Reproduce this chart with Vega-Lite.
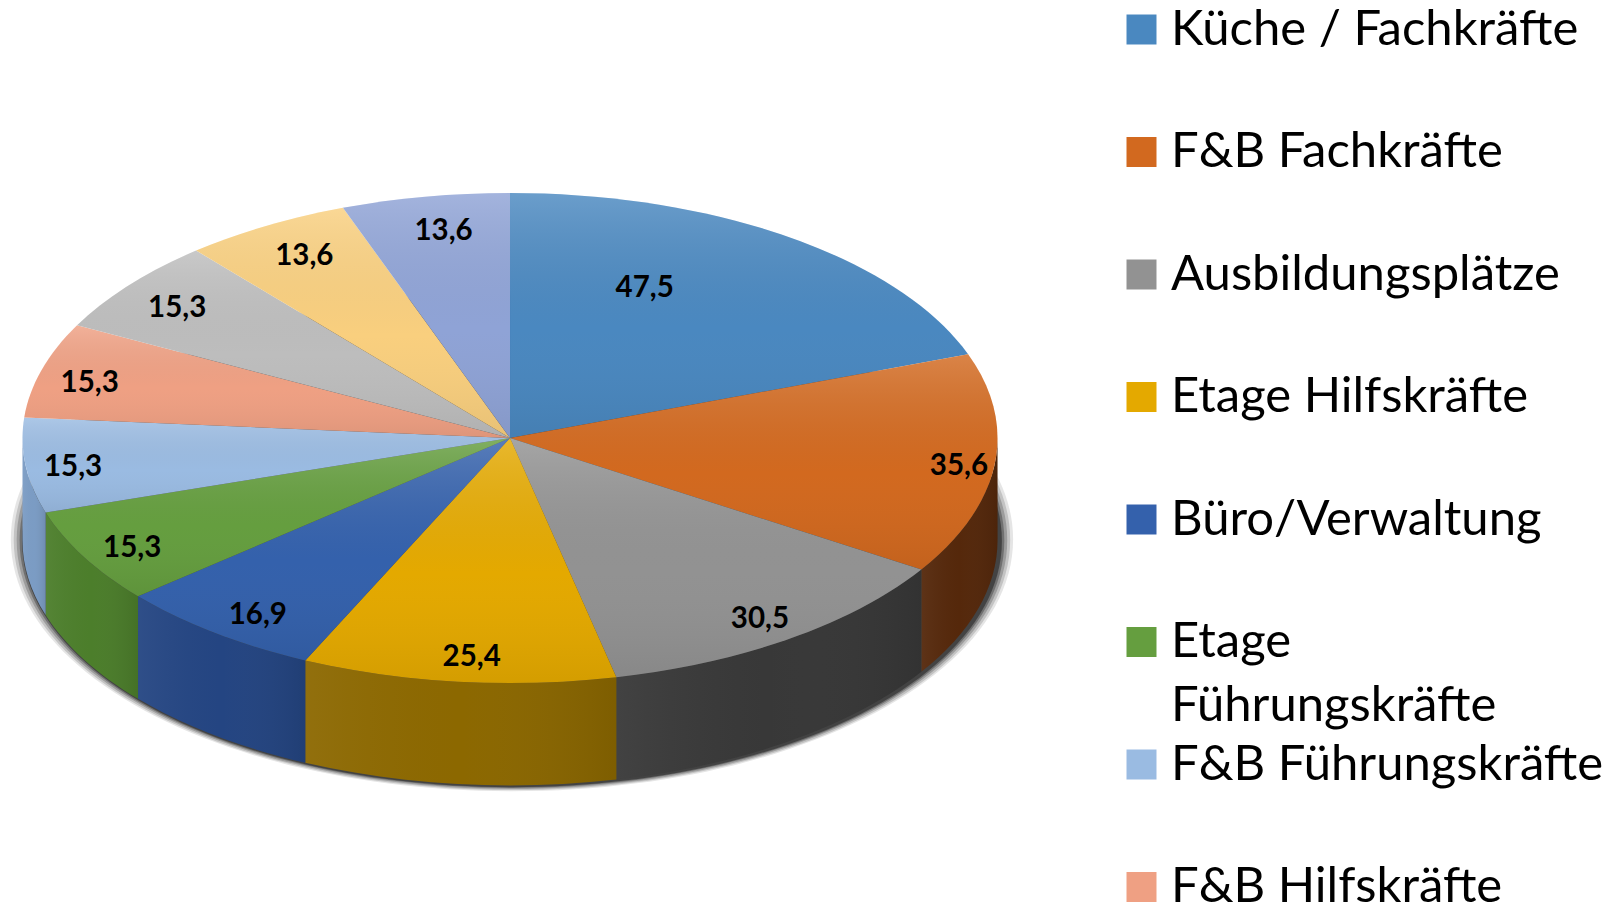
{"$schema":"https://vega.github.io/schema/vega-lite/v6.json","width":1609,"height":906,"autosize":{"type":"fit","contains":"padding"},"padding":0,"background":"#ffffff","config":{"view":{"stroke":null}},
"data":{"values":[
{"kategorie":"Küche / Fachkräfte","wert":47.5,"rang":1},
{"kategorie":"F&B Fachkräfte","wert":35.6,"rang":2},
{"kategorie":"Ausbildungsplätze","wert":30.5,"rang":3},
{"kategorie":"Etage Hilfskräfte","wert":25.4,"rang":4},
{"kategorie":"Büro/Verwaltung","wert":16.9,"rang":5},
{"kategorie":"Etage Führungskräfte","wert":15.3,"rang":6},
{"kategorie":"F&B Führungskräfte","wert":15.3,"rang":7},
{"kategorie":"F&B Hilfskräfte","wert":15.3,"rang":8},
{"kategorie":"Kategorie 9","wert":15.3,"rang":9},
{"kategorie":"Kategorie 10","wert":13.6,"rang":10},
{"kategorie":"Kategorie 11","wert":13.6,"rang":11}]},
"transform":[
{"joinaggregate":[{"op":"sum","field":"wert","as":"gesamt"}]},
{"window":[{"op":"sum","field":"wert","as":"kum"}],"sort":[{"field":"rang","order":"ascending"}]},
{"calculate":"datum.kum/datum.gesamt*2*PI","as":"a1"},
{"calculate":"datum.a1-datum.wert/datum.gesamt*2*PI","as":"a0"},
{"calculate":"(datum.a0+datum.a1)/2","as":"am"},
{"calculate":"round(sin(datum.a0)*1e5)/1e5","as":"x0"},
{"calculate":"round(-0.5026*cos(datum.a0)*1e5)/1e5","as":"y0"},
{"calculate":"round(sin(datum.a1)*1e5)/1e5","as":"x1"},
{"calculate":"round(-0.5026*cos(datum.a1)*1e5)/1e5","as":"y1"},
{"calculate":"'M0,0L'+datum.x0+','+datum.y0+'A1,0.5026,0,0,1,'+datum.x1+','+datum.y1+'Z'","as":"oben"},
{"calculate":"max(datum.a0,PI/2)","as":"w0"},
{"calculate":"min(datum.a1,3*PI/2)","as":"w1"},
{"calculate":"round(sin(datum.w0)*1e5)/1e5","as":"wx0"},
{"calculate":"round(-0.5026*cos(datum.w0)*1e5)/1e5","as":"wy0"},
{"calculate":"round(sin(datum.w1)*1e5)/1e5","as":"wx1"},
{"calculate":"round(-0.5026*cos(datum.w1)*1e5)/1e5","as":"wy1"},
{"calculate":"'M'+datum.wx0+','+datum.wy0+'A1,0.5026,0,0,1,'+datum.wx1+','+datum.wy1+'L'+datum.wx1+','+(datum.wy1+0.21)+'A1,0.5026,0,0,0,'+datum.wx0+','+(datum.wy0+0.21)+'Z'","as":"wand"},
{"calculate":"(0.85*sin(datum.am)+0.065*pow(sin(datum.am),3)+0.012)*(datum.wert>40?0.54:1)","as":"lx"},
{"calculate":"-0.88*0.5026*cos(datum.am)*(datum.wert>40?0.88:1)","as":"ly"},
{"calculate":"replace(format(datum.wert,'.1f'),'.',',')","as":"beschriftung"}
],
"layer":[
{"transform":[{"filter":"datum.rang==1"}],"mark":{"type":"point","filled":true,"size":1004640,"opacity":0.1,"color":"#000000","shape":"M-1,0.21A1,0.5026,0,1,0,1,0.21A1,0.5026,0,1,0,-1,0.21Z"},
"encoding":{
"x":{"datum":0.004,"type":"quantitative","scale":{"domain":[-1.0462,2.2544],"nice":false,"zero":false},"axis":null},
"y":{"datum":-0.008,"type":"quantitative","scale":{"domain":[-0.8985,0.96],"nice":false,"zero":false,"reverse":true},"axis":null}}},
{"transform":[{"filter":"datum.rang==1"}],"mark":{"type":"point","filled":true,"size":992900,"opacity":0.15,"color":"#000000","shape":"M-1,0.21A1,0.5026,0,1,0,1,0.21A1,0.5026,0,1,0,-1,0.21Z"},
"encoding":{"x":{"datum":0.004,"type":"quantitative"},"y":{"datum":-0.006,"type":"quantitative"}}},
{"transform":[{"filter":"datum.rang==1"}],"mark":{"type":"point","filled":true,"size":981290,"opacity":0.2,"color":"#000000","shape":"M-1,0.21A1,0.5026,0,1,0,1,0.21A1,0.5026,0,1,0,-1,0.21Z"},
"encoding":{"x":{"datum":0.004,"type":"quantitative"},"y":{"datum":-0.004,"type":"quantitative"}}},
{"transform":[{"filter":"datum.rang==1"}],"mark":{"type":"point","filled":true,"size":969750,"opacity":0.28,"color":"#000000","shape":"M-1,0.21A1,0.5026,0,1,0,1,0.21A1,0.5026,0,1,0,-1,0.21Z"},
"encoding":{"x":{"datum":0.004,"type":"quantitative"},"y":{"datum":-0.002,"type":"quantitative"}}},
{"transform":[{"filter":"datum.rang==1"}],"mark":{"type":"point","filled":true,"size":960140,"opacity":0.4,"color":"#000000","shape":"M-1,0.21A1,0.5026,0,1,0,1,0.21A1,0.5026,0,1,0,-1,0.21Z"},
"encoding":{"x":{"datum":0.004,"type":"quantitative"},"y":{"datum":0,"type":"quantitative"}}},
{"transform":[{"filter":"datum.w1>datum.w0"}],
"mark":{"type":"point","filled":true,"size":950625,"opacity":1},
"encoding":{
"x":{"datum":0,"type":"quantitative"},
"y":{"datum":0,"type":"quantitative"},
"shape":{"field":"wand","type":"nominal","scale":null},
"fill":{"field":"kategorie","type":"nominal","legend":null,"scale":{"domain":["F&B Fachkräfte","Ausbildungsplätze","Etage Hilfskräfte","Büro/Verwaltung","Etage Führungskräfte","F&B Führungskräfte"],"range":["#55280b","#383838","#8c6800","#244582","#4c7e2b","#7b9cc4"]}}
}},
{"transform":[{"filter":"datum.w1>datum.w0"}],
"mark":{"type":"point","filled":true,"size":950625,"opacity":1,"color":{"gradient":"linear","x1":0,"y1":0,"x2":1,"y2":0,"stops":[{"offset":0,"color":"rgba(255,255,255,0.05)"},{"offset":0.5,"color":"rgba(128,128,128,0)"},{"offset":1,"color":"rgba(0,0,0,0.1)"}]}},
"encoding":{
"x":{"datum":0,"type":"quantitative"},
"y":{"datum":0,"type":"quantitative"},
"shape":{"field":"wand","type":"nominal","scale":null}}},
{"mark":{"type":"point","filled":true,"size":950625,"opacity":1},
"encoding":{
"x":{"datum":0,"type":"quantitative"},
"y":{"datum":0,"type":"quantitative"},
"shape":{"field":"oben","type":"nominal","scale":null},
"color":{"field":"kategorie","type":"nominal","scale":{"domain":["Küche / Fachkräfte","F&B Fachkräfte","Ausbildungsplätze","Etage Hilfskräfte","Büro/Verwaltung","Etage Führungskräfte","F&B Führungskräfte","F&B Hilfskräfte","Kategorie 9","Kategorie 10","Kategorie 11"],"range":["#4a88c0","#d2691f","#929292","#e4a900","#3461ac","#659e3f","#9abbe2","#efa083","#bdbdbd","#f9cf7e","#8fa3d6"]},
"legend":{"title":null,"orient":"none","legendX":1117,"legendY":5,"values":["Küche / Fachkräfte","F&B Fachkräfte","Ausbildungsplätze","Etage Hilfskräfte","Büro/Verwaltung","Etage Führungskräfte","F&B Führungskräfte","F&B Hilfskräfte"],"symbolType":"square","symbolSize":900,"symbolStrokeWidth":0,"symbolOpacity":1,"labelFont":"Lato","labelFontSize":49,"labelColor":"#000000","labelLimit":480,"labelOffset":5,"rowPadding":72.5,"labelExpr":"datum.label=='Etage Führungskräfte'?'Etage':datum.label"}}
}},
{"mark":{"type":"point","filled":true,"size":950625,"opacity":1,"color":{"gradient":"linear","x1":0,"y1":0,"x2":0,"y2":1,"stops":[{"offset":0,"color":"rgba(255,255,255,0.18)"},{"offset":0.55,"color":"rgba(128,128,128,0)"},{"offset":1,"color":"rgba(0,0,0,0.07)"}]}},
"encoding":{
"x":{"datum":0,"type":"quantitative"},
"y":{"datum":0,"type":"quantitative"},
"shape":{"field":"oben","type":"nominal","scale":null}}},
{"mark":{"type":"text","font":"Lato","fontWeight":"bold","fontSize":29.5,"color":"#000000","dy":5},
"encoding":{"x":{"field":"lx","type":"quantitative"},"y":{"field":"ly","type":"quantitative"},"text":{"field":"beschriftung"}}},
{"transform":[{"filter":"datum.rang==6"},{"calculate":"'Führungskräfte'","as":"zeile2"}],
"mark":{"type":"text","font":"Lato","fontSize":49,"align":"left","color":"#000000"},
"encoding":{"x":{"datum":1.356,"type":"quantitative"},"y":{"datum":0.5497,"type":"quantitative"},"text":{"field":"zeile2"}}}
]}
